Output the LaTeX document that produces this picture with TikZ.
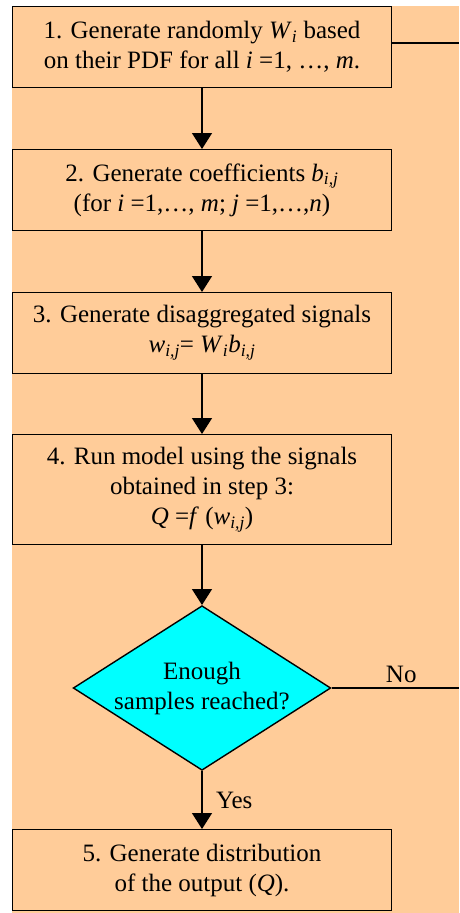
\documentclass[tikz,border=0pt]{standalone}
\usepackage{fontspec}
\setmainfont{Liberation Serif}
\usepackage{xcolor}
\usetikzlibrary{arrows.meta,positioning,shapes.geometric}
\definecolor{peach}{RGB}{255,204,153}
\definecolor{aqua}{RGB}{0,255,255}
\newcommand{\mi}[1]{\textit{#1}}

\begin{document}
\begin{tikzpicture}[x=1pt, y=-1pt,
    node distance=60pt,
    box/.style={rectangle, draw, fill=peach, line width=1.4pt, align=center, minimum width=378.6pt, minimum height=80.6pt, font=\fontsize{25}{30}\selectfont},
    decision/.style={diamond, draw, fill=aqua, line width=1.4pt, align=center, minimum width=257.6pt, minimum height=164.6pt, inner sep=-30pt, font=\fontsize{25}{30}\selectfont},
    lbl/.style={font=\fontsize{25}{30}\selectfont},
    arrow/.style={-{Triangle[width=20pt,length=16pt]}, line width=1.4pt}
]
\useasboundingbox (0,0) rectangle (459,913);
\fill[peach] (12,6) rectangle (459,913);
\node[box, anchor=north] (gen) at (202,6) {1. Generate randomly \mi{W}\textsubscript{\mi{i}} based\\on their PDF for all \mi{i} =1, …, \mi{m}.};
\node[box, below=61pt of gen] (coef) {2. Generate coefficients \mi{b}\textsubscript{\mi{i,j}}\\(for \mi{i} =1,…, \mi{m}; \mi{j} =1,…,\mi{n})};
\node[box, below=61pt of coef] (disagg) {3. Generate disaggregated signals\\\mi{w}\textsubscript{\mi{i,j}}= \mi{W}\textsubscript{\mi{i}}\mi{b}\textsubscript{\mi{i,j}}};
\node[box, below=of disagg, minimum height=109.6pt] (model) {4. Run model using the signals\\obtained in step 3:\\\mi{Q} =\mi{f} (\mi{w}\textsubscript{\mi{i,j}})};
\node[decision, below=of model] (enough) {Enough\\samples reached?};
\node[box, below=58pt of enough] (dist) {5. Generate distribution\\of the output (\mi{Q}).};
\coordinate (retgen) at (459,43);
\coordinate (retno) at (459,0 |- enough.east);
\draw[arrow] (gen) -- (coef);
\draw[arrow] (coef) -- (disagg);
\draw[arrow] (disagg) -- (model);
\draw[arrow] (model) -- (enough);
\draw[arrow] (enough) -- node[lbl, midway, right=10pt] (yes) {Yes} (dist);
\draw[line width=1.4pt] (enough.east) -- node[lbl, midway, above=1pt, xshift=6pt] (no) {No} (retno);
\draw[line width=1.4pt] (retgen -| gen.east) -- (retgen);
\end{tikzpicture}
\end{document}
